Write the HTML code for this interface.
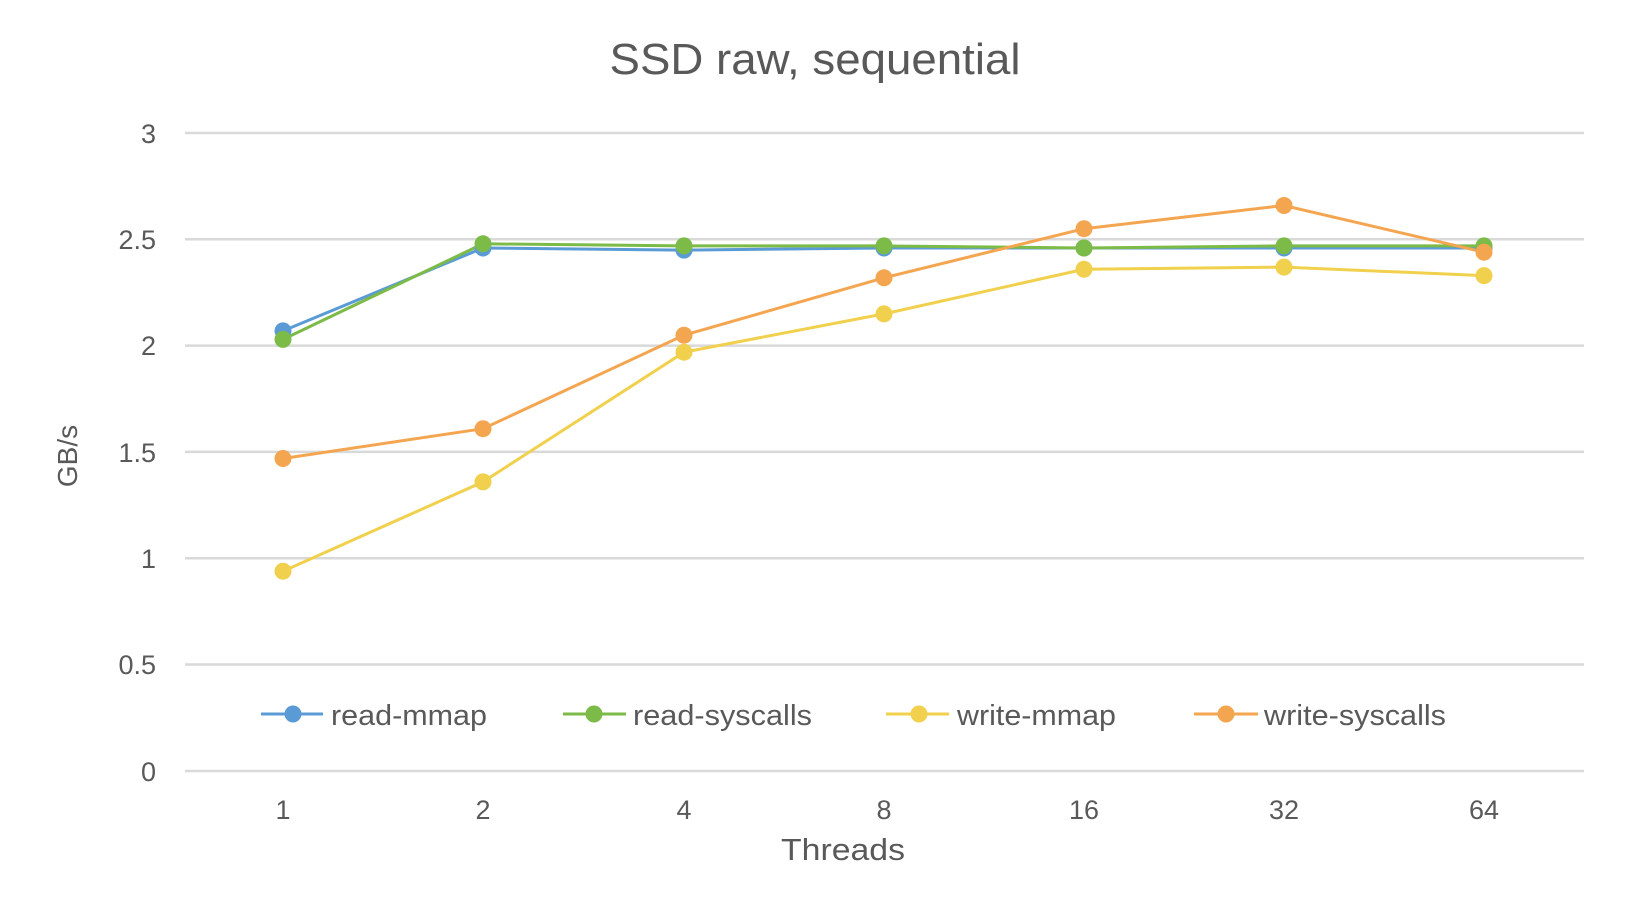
<!DOCTYPE html>
<html><head><meta charset="utf-8"><style>
html,body{margin:0;padding:0;background:#fff;}
svg{display:block;}
text{font-family:"Liberation Sans",sans-serif;fill:#595959;}
</style></head><body>
<svg width="1632" height="900" viewBox="0 0 1632 900">
<rect width="1632" height="900" fill="#fff"/>
<text x="815" y="74" font-size="44" text-anchor="middle" textLength="411" lengthAdjust="spacingAndGlyphs">SSD raw, sequential</text>
<g stroke="#d9d9d9" stroke-width="2.5">
<line x1="185" x2="1584" y1="133" y2="133"/>
<line x1="185" x2="1584" y1="239.3" y2="239.3"/>
<line x1="185" x2="1584" y1="345.6" y2="345.6"/>
<line x1="185" x2="1584" y1="451.9" y2="451.9"/>
<line x1="185" x2="1584" y1="558.2" y2="558.2"/>
<line x1="185" x2="1584" y1="664.5" y2="664.5"/>
<line x1="185" x2="1584" y1="771" y2="771"/>
</g>
<g font-size="27" text-anchor="end">
<text x="156" y="143">3</text>
<text x="156" y="249">2.5</text>
<text x="156" y="355">2</text>
<text x="156" y="462">1.5</text>
<text x="156" y="568">1</text>
<text x="156" y="674">0.5</text>
<text x="156" y="781">0</text>
</g>
<g font-size="27" text-anchor="middle">
<text x="283" y="819">1</text>
<text x="483" y="819">2</text>
<text x="684" y="819">4</text>
<text x="884" y="819">8</text>
<text x="1084" y="819">16</text>
<text x="1284" y="819">32</text>
<text x="1484" y="819">64</text>
</g>
<text x="843" y="860" font-size="31" text-anchor="middle" textLength="124" lengthAdjust="spacingAndGlyphs">Threads</text>
<text transform="translate(77,456) rotate(-90)" font-size="28" text-anchor="middle">GB/s</text>
<g fill="none" stroke-width="3">
<polyline stroke="#5b9bd5" points="283,330.9 483,248 684,250.1 884,248 1084,248 1284,248 1484,248"/>
<polyline stroke="#7cbb48" points="283,339.4 483,243.8 684,245.9 884,245.9 1084,248 1284,245.9 1484,245.9"/>
<polyline stroke="#f0d04c" points="283,571.2 483,481.9 684,352.2 884,313.9 1084,269.3 1284,267.1 1484,275.6"/>
<polyline stroke="#f4a550" points="283,458.5 483,428.7 684,335.2 884,277.8 1084,228.7 1284,205.5 1484,252.2"/>
</g>
<g fill="#5b9bd5"><circle cx="283" cy="330.9" r="8.5"/><circle cx="483" cy="248" r="8.5"/><circle cx="684" cy="250.1" r="8.5"/><circle cx="884" cy="248" r="8.5"/><circle cx="1084" cy="248" r="8.5"/><circle cx="1284" cy="248" r="8.5"/><circle cx="1484" cy="248" r="8.5"/></g>
<g fill="#7cbb48"><circle cx="283" cy="339.4" r="8.5"/><circle cx="483" cy="243.8" r="8.5"/><circle cx="684" cy="245.9" r="8.5"/><circle cx="884" cy="245.9" r="8.5"/><circle cx="1084" cy="248" r="8.5"/><circle cx="1284" cy="245.9" r="8.5"/><circle cx="1484" cy="245.9" r="8.5"/></g>
<g fill="#f0d04c"><circle cx="283" cy="571.2" r="8.5"/><circle cx="483" cy="481.9" r="8.5"/><circle cx="684" cy="352.2" r="8.5"/><circle cx="884" cy="313.9" r="8.5"/><circle cx="1084" cy="269.3" r="8.5"/><circle cx="1284" cy="267.1" r="8.5"/><circle cx="1484" cy="275.6" r="8.5"/></g>
<g fill="#f4a550"><circle cx="283" cy="458.5" r="8.5"/><circle cx="483" cy="428.7" r="8.5"/><circle cx="684" cy="335.2" r="8.5"/><circle cx="884" cy="277.8" r="8.5"/><circle cx="1084" cy="228.7" r="8.5"/><circle cx="1284" cy="205.5" r="8.5"/><circle cx="1484" cy="252.2" r="8.5"/></g>
<g stroke-width="3" font-size="29">
<line x1="261" x2="323" y1="714" y2="714" stroke="#5b9bd5"/><circle cx="293" cy="714" r="8.5" fill="#5b9bd5"/>
<text x="331" y="725" textLength="156" lengthAdjust="spacingAndGlyphs">read-mmap</text>
<line x1="563" x2="626" y1="714" y2="714" stroke="#7cbb48"/><circle cx="594" cy="714" r="8.5" fill="#7cbb48"/>
<text x="633" y="725" textLength="179" lengthAdjust="spacingAndGlyphs">read-syscalls</text>
<line x1="886" x2="949" y1="714" y2="714" stroke="#f0d04c"/><circle cx="919" cy="714" r="8.5" fill="#f0d04c"/>
<text x="957" y="725" textLength="159" lengthAdjust="spacingAndGlyphs">write-mmap</text>
<line x1="1194" x2="1258" y1="714" y2="714" stroke="#f4a550"/><circle cx="1226" cy="714" r="8.5" fill="#f4a550"/>
<text x="1264" y="725" textLength="182" lengthAdjust="spacingAndGlyphs">write-syscalls</text>
</g>
</svg>
</body></html>
